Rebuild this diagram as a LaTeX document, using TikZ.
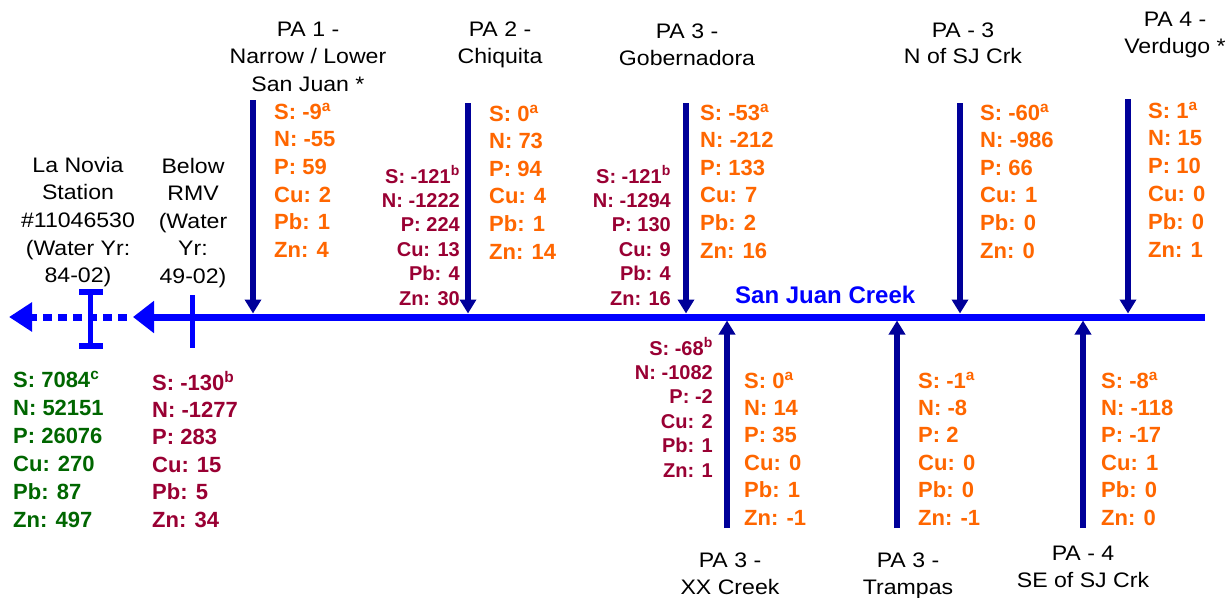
\documentclass[tikz,border=0pt]{standalone}
\usepackage{fontspec}
\setmainfont{Liberation Sans}
\newfontfamily\lblfont[FakeStretch=1.1]{Liberation Sans}
\usetikzlibrary{arrows.meta}
\definecolor{orng}{HTML}{FF6600}
\definecolor{mrn}{HTML}{990033}
\definecolor{grn}{HTML}{006600}
\definecolor{dblue}{HTML}{000099}
\definecolor{cblue}{HTML}{0000FF}
\newcommand\colL[2]{\vtop{\baselineskip=#1\relax\lineskiplimit=-16000pt\relax\halign{##\hfil\cr#2\crcr}}}
\newcommand\colR[2]{\vtop{\baselineskip=#1\relax\lineskiplimit=-16000pt\relax\halign{\hfil##\cr#2\crcr}}}
\newcommand\colC[2]{\vtop{\baselineskip=#1\relax\lineskiplimit=-16000pt\relax\halign{\hfil##\hfil\cr#2\crcr}}}
\newcommand\sups[1]{\textsuperscript{#1}}
\tikzset{
  lbl/.style={inner sep=0pt, anchor=base, font=\lblfont\fontsize{21}{27}\selectfont, text=black},
  datL/.style={inner sep=0pt, anchor=base west, font=\fontsize{22}{27}\selectfont\bfseries},
  datR/.style={inner sep=0pt, anchor=base east, font=\fontsize{20}{24}\selectfont\bfseries, text=mrn},
  trib/.style={draw=dblue, line width=5.5pt, -{Triangle[width=16pt,length=14pt]}},
  creek/.style={draw=cblue, line width=7pt},
  gauge/.style={draw=cblue, line width=5pt},
}
\begin{document}
\begin{tikzpicture}[x=1pt,y=-1pt]
\useasboundingbox (0,0) rectangle (1228,597);
% creek
\coordinate (cR) at (1205,317);
\coordinate (cL) at (133,317);
\coordinate (cD) at (127,317);
\coordinate (cEnd) at (9,317);
\draw[creek, -{Triangle[width=31pt,length=21pt]}] (cR) -- (cL);
\draw[creek, dash pattern=on 9pt off 6pt, -{Triangle[width=28pt,length=23pt]}] (cD) -- (cEnd);
% gauge marks
\coordinate (gT) at (90.5,292);
\coordinate (gB) at (90.5,346);
\coordinate (gTl) at (79,292);
\coordinate (gTr) at (103,292);
\coordinate (gBl) at (79,346);
\coordinate (gBr) at (103,346);
\draw[gauge] (gT) -- (gB);
\draw[gauge, line width=6pt] (gTl) -- (gTr);
\draw[gauge, line width=6pt] (gBl) -- (gBr);
\coordinate (rT) at (192,295);
\coordinate (rB) at (192,348);
\draw[gauge] (rT) -- (rB);
% tributaries from the north
\coordinate (t1s) at (253,100);  \coordinate (t1e) at (253,313.5);
\coordinate (t2s) at (468,103);  \coordinate (t2e) at (468,313.5);
\coordinate (t3s) at (686,103);  \coordinate (t3e) at (686,313.5);
\coordinate (t4s) at (960,103);  \coordinate (t4e) at (960,313.5);
\coordinate (t5s) at (1128,99);  \coordinate (t5e) at (1128,313.5);
\draw[trib] (t1s) -- (t1e);
\draw[trib] (t2s) -- (t2e);
\draw[trib] (t3s) -- (t3e);
\draw[trib] (t4s) -- (t4e);
\draw[trib] (t5s) -- (t5e);
% tributaries from the south
\coordinate (b1s) at (727,528);  \coordinate (b1e) at (727,320.5);
\coordinate (b2s) at (897,528);  \coordinate (b2e) at (897,320.5);
\coordinate (b3s) at (1083,528); \coordinate (b3e) at (1083,320.5);
\draw[trib] (b1s) -- (b1e);
\draw[trib] (b2s) -- (b2e);
\draw[trib] (b3s) -- (b3e);
% creek name
\node[inner sep=0pt, anchor=base west, font=\fontsize{24}{28}\selectfont\bfseries, text=cblue] (creekname) at (735,303) {San Juan Creek};
% black labels
\node[lbl] (lnovia) at (78,172) {\colC{27.7pt}{La Novia\cr Station\cr \#11046530\cr (Water Yr:\cr 84-02)}};
\node[lbl] (rmv) at (193,173) {\colC{27.5pt}{Below\cr RMV\cr (Water\cr Yr:\cr 49-02)}};
\node[lbl] (pa1) at (308,36) {\colC{27.5pt}{PA 1 -\cr Narrow / Lower\cr San Juan *}};
\node[lbl] (pa2) at (500,36) {\colC{27.5pt}{PA 2 -\cr Chiquita}};
\node[lbl] (pa3g) at (687,38) {\colC{27pt}{PA 3 -\cr Gobernadora}};
\node[lbl] (pa3n) at (963,37) {\colC{26.5pt}{PA - 3\cr N of SJ Crk}};
\node[lbl] (pa4v) at (1175,26) {\colC{27pt}{PA 4 -\cr Verdugo *}};
\node[lbl] (pa3x) at (730,567) {\colC{27pt}{PA 3 -\cr XX Creek}};
\node[lbl] (pa3t) at (908,567) {\colC{27pt}{PA 3 -\cr Trampas}};
\node[lbl] (pa4s) at (1083,560) {\colC{27pt}{PA - 4\cr SE of SJ Crk}};
% data blocks
\node[datL, text=orng] (d1) at (274,119) {\colL{27.7pt}{S: -9\sups{a}\cr N: -55\cr P: 59\cr Cu: 2\cr Pb: 1\cr Zn: 4}};
\node[datR] (m12) at (460,183) {\colR{24.4pt}{S: -121\sups{b}\cr N: -1222\cr P: 224\cr Cu: 13\cr Pb: 4\cr Zn: 30}};
\node[datL, text=orng] (d2) at (489,121) {\colL{27.6pt}{S: 0\sups{a}\cr N: 73\cr P: 94\cr Cu: 4\cr Pb: 1\cr Zn: 14}};
\node[datR] (m3) at (671,183) {\colR{24.4pt}{S: -121\sups{b}\cr N: -1294\cr P: 130\cr Cu: 9\cr Pb: 4\cr Zn: 16}};
\node[datL, text=orng] (d3) at (700,120) {\colL{27.6pt}{S: -53\sups{a}\cr N: -212\cr P: 133\cr Cu: 7\cr Pb: 2\cr Zn: 16}};
\node[datL, text=orng] (d3n) at (980,120) {\colL{27.6pt}{S: -60\sups{a}\cr N: -986\cr P: 66\cr Cu: 1\cr Pb: 0\cr Zn: 0}};
\node[datL, text=orng] (d4) at (1148,118) {\colL{27.8pt}{S: 1\sups{a}\cr N: 15\cr P: 10\cr Cu: 0\cr Pb: 0\cr Zn: 1}};
\node[datR] (mx) at (713,355) {\colR{24.4pt}{S: -68\sups{b}\cr N: -1082\cr P: -2\cr Cu: 2\cr Pb: 1\cr Zn: 1}};
\node[datL, text=orng] (dx) at (744,388) {\colL{27.4pt}{S: 0\sups{a}\cr N: 14\cr P: 35\cr Cu: 0\cr Pb: 1\cr Zn: -1}};
\node[datL, text=orng] (dt) at (918,388) {\colL{27.4pt}{S: -1\sups{a}\cr N: -8\cr P: 2\cr Cu: 0\cr Pb: 0\cr Zn: -1}};
\node[datL, text=orng] (ds) at (1101,388) {\colL{27.4pt}{S: -8\sups{a}\cr N: -118\cr P: -17\cr Cu: 1\cr Pb: 0\cr Zn: 0}};
\node[datL, text=grn] (dg) at (13,387) {\colL{28pt}{S: 7084\sups{c}\cr N: 52151\cr P: 26076\cr Cu: 270\cr Pb: 87\cr Zn: 497}};
\node[datL, text=mrn] (drmv) at (152,390) {\colL{27.4pt}{S: -130\sups{b}\cr N: -1277\cr P: 283\cr Cu: 15\cr Pb: 5\cr Zn: 34}};
\end{tikzpicture}
\end{document}
